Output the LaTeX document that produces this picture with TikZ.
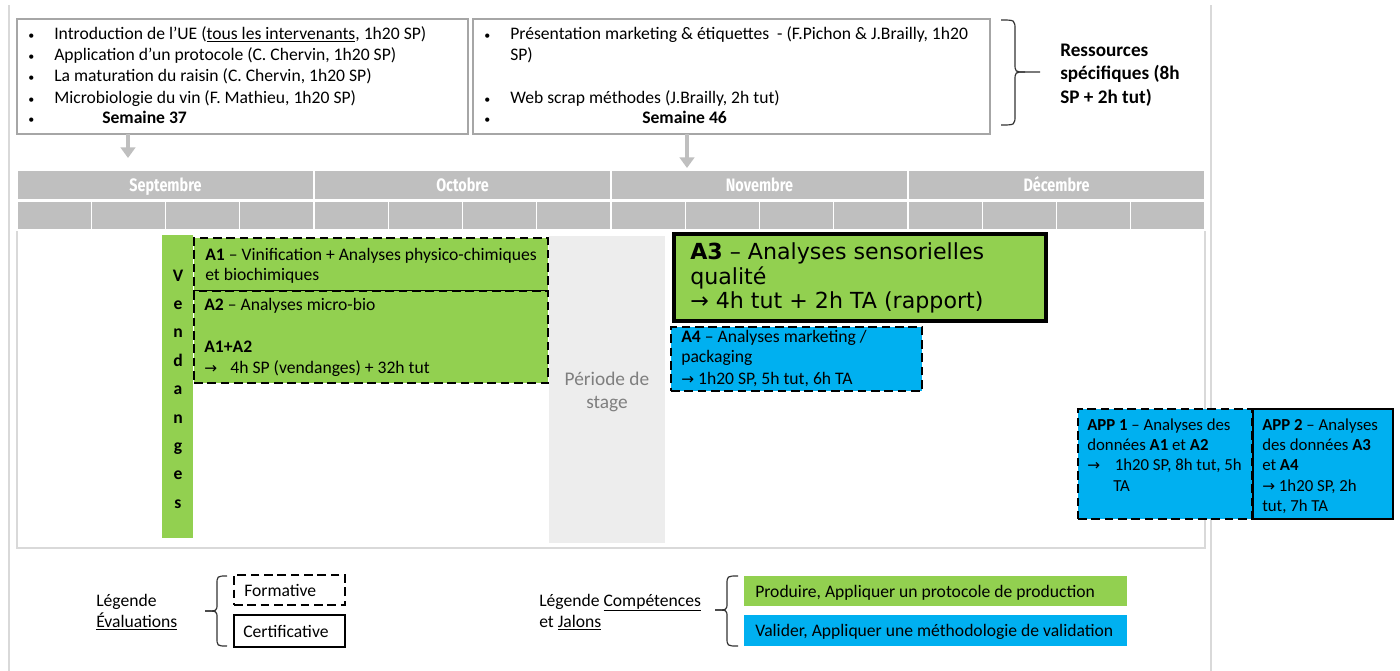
\documentclass[tikz,border=0pt]{standalone}
\usepackage{fontspec}
\setmainfont{Carlito}
\newfontfamily\symbfont{DejaVu Sans}
\newfontfamily\largefont{DejaVu Sans}
\newfontfamily\moisfont{Fira Sans}[FakeStretch=0.8]
\usetikzlibrary{arrows.meta,fit,positioning}

\definecolor{vert}{HTML}{92D050}
\definecolor{bleu}{HTML}{00B0F0}
\definecolor{grisentete}{HTML}{BFBFBF}
\definecolor{griscadre}{HTML}{D9D9D9}
\definecolor{grisstage}{HTML}{EDEDED}
\definecolor{gristexte}{HTML}{7F7F7F}
\definecolor{grisbord}{HTML}{A6A6A6}

\newcommand{\police}{\fontsize{13.2}{16}\selectfont}
\newcommand{\petite}{\fontsize{12.6}{15.4}\selectfont}
\newcommand{\fl}{{\symbfont\fontsize{11.5}{13}\selectfont →}}

\tikzset{
  zone/.style={inner sep=0pt,outer sep=0pt},
  formatif/.style={zone,draw=black,line width=1.8pt,dash pattern=on 6.5pt off 3.5pt},
  certificatif/.style={zone,draw=black,line width=1.6pt},
  ligne/.style={anchor=west,inner sep=0pt,text height=10.5pt,text depth=1.5pt},
  lignep/.style={ligne,font=\petite},
  lettre/.style={inner sep=0pt,text height=10.5pt,text depth=1.5pt,font=\police\bfseries},
  puce/.style={ligne,font=\fontsize{9}{10}\selectfont},
  fleche/.style={draw=grisentete,line width=3.5pt,-{Triangle[width=11pt,length=8pt]}},
  mois/.style={zone,fill=grisentete,draw=white,line width=1pt},
  moislabel/.style={text=white,inner sep=0pt,text height=10.5pt,text depth=1.5pt,
    font=\moisfont\bfseries\fontsize{13.5}{15}\selectfont},
  ressbox/.style={zone,draw=grisbord,line width=0.8pt},
  accolade/.style={draw=black!80,line width=0.9pt},
  trait/.style={draw=griscadre,line width=2.2pt},
}

\begin{document}
\begin{tikzpicture}[x=0.75pt,y=-0.75pt,font=\police]
\useasboundingbox (0,0) rectangle (1400,671);

% bords de page
\draw[trait] (9,5) -- (9,671);
\draw[trait] (1211,5) -- (1211,671);

% ressources specifiques
\node[ressbox,fit={(17,19) (468,134)}] (R1) {};
\node[ressbox,fit={(473,19) (990,134)}] (R2) {};
\foreach \yy [count=\i] in {33,54,75,97,117}
  \node[puce] (P\i) at (28,\yy) {\textbullet};
\node[ligne] (L1) at (54,33) {Introduction de l’UE (\underline{tous les intervenants}, 1h20 SP)};
\node[ligne] (L2) at (54,54) {Application d’un protocole (C. Chervin, 1h20 SP)};
\node[ligne] (L3) at (54,75) {La maturation du raisin (C. Chervin, 1h20 SP)};
\node[ligne] (L4) at (54,97) {Microbiologie du vin (F. Mathieu, 1h20 SP)};
\node[ligne] (L5) at (102,117) {\textbf{Semaine 37}};
\foreach \yy [count=\i] in {33,97,117}
  \node[puce] (Q\i) at (484,\yy) {\textbullet};
\node[ligne] (M1) at (510,33) {Présentation marketing \& étiquettes \ - (F.Pichon \& J.Brailly, 1h20};
\node[ligne] (M2) at (510,54) {SP)};
\node[ligne] (M3) at (510,97) {Web scrap méthodes (J.Brailly, 2h tut)};
\node[ligne] (M4) at (642,117) {\textbf{Semaine 46}};

% accolade ressources
\draw[accolade] (1001,20) .. controls (1015,20) .. (1015,30) -- (1015,63)
  .. controls (1015,72) .. (1025,72) -- (1040,72);
\draw[accolade] (1001,125) .. controls (1015,125) .. (1015,115) -- (1015,81)
  .. controls (1015,72) .. (1025,72);
\node[ligne,font=\fontsize{14.4}{17}\selectfont\bfseries] (Res1) at (1060,50) {Ressources};
\node[ligne,font=\fontsize{14.4}{17}\selectfont\bfseries] (Res2) at (1060,73) {spécifiques (8h};
\node[ligne,font=\fontsize{14.4}{17}\selectfont\bfseries] (Res3) at (1060,97) {SP + 2h tut)};

% calendrier
\node[zone,draw=griscadre,line width=1.5pt,fit={(17,170) (1205,548)}] (Cadre) {};
\foreach \m [count=\i from 0] in {Septembre,Octobre,Novembre,Décembre}{
  \node[mois,fit={({17+297*\i},170) ({314+297*\i},200)}] (Mo\i) {};
  \node[moislabel] (T\i) at (Mo\i.center) {\m};
}
\foreach \i in {0,...,15}
  \node[mois,fit={({17+74.25*\i},201) ({91.25+74.25*\i},230)}] (S\i) {};

\coordinate (F1) at (128,158);
\coordinate (F2) at (687,168);
\draw[fleche] (R1.south -| F1) -- (F1);
\draw[fleche] (R2.south -| F2) -- (F2);

% vendanges
\node[zone,fill=vert,fit={(162,235) (193,538)}] (Vend) {};
\foreach \c [count=\i from 0] in {V,e,n,d,a,n,g,e,s}
  \node[lettre] (V\i) at (178,{275+28.4*\i}) {\c};

% periode de stage
\node[zone,fill=grisstage,fit={(549,236) (665,543)}] (Stage) {};
\node[ligne,anchor=center,text=gristexte,font=\fontsize{14.5}{17.3}\selectfont] (Stage1) at (607,379) {Période de};
\node[ligne,anchor=center,text=gristexte,font=\fontsize{14.5}{17.3}\selectfont] (Stage2) at (607,402) {stage};

% A1 et A2
\node[formatif,fill=vert,fit={(194,238) (548,291)}] (A1) {};
\node[formatif,fill=vert,fit={(194,291) (548,383)}] (A2) {};
\node[ligne] (A1a) at (205,254) {\textbf{A1} – Vinification + Analyses physico-chimiques};
\node[ligne] (A1b) at (205,274) {et biochimiques};
\node[ligne] (A2a) at (204,304) {\textbf{A2} – Analyses micro-bio};
\node[ligne] (A2b) at (204,346) {\textbf{A1+A2}};
\node[ligne] (A2c) at (204,367) {\fl\hspace{10pt}4h SP (vendanges) + 32h tut};

% A3 et A4
\node[zone,fill=vert,draw=black,line width=2.3pt,fit={(674,234) (1046,321)}] (A3) {};
\node[ligne,font=\largefont\fontsize{16.6}{19}\selectfont] (A3a) at (690,253) {\textbf{A3} – Analyses sensorielles};
\node[ligne,font=\largefont\fontsize{16.6}{19}\selectfont] (A3b) at (690,278) {qualité};
\node[ligne,font=\largefont\fontsize{16.6}{19}\selectfont] (A3c) at (690,302) {→ 4h tut + 2h TA (rapport)};
\node[formatif,fill=bleu,fit={(671,327) (922,391)}] (A4) {};
\node[ligne] (A4a) at (681,336) {\textbf{A4} – Analyses marketing /};
\node[ligne] (A4b) at (681,356) {packaging};
\node[ligne] (A4c) at (681,378) {\fl\ 1h20 SP, 5h tut, 6h TA};

% APP
\node[formatif,fill=bleu,fit={(1078,409) (1252,519)}] (APP1) {};
\node[certificatif,fill=bleu,fit={(1253,409) (1393,519)}] (APP2) {};
\node[lignep] (P1a) at (1087,424) {\textbf{APP 1} – Analyses des};
\node[lignep] (P1b) at (1087,444) {données \textbf{A1} et \textbf{A2}};
\node[lignep] (P1c) at (1087,464) {\fl\hspace{11pt}1h20 SP, 8h tut, 5h};
\node[lignep] (P1d) at (1113,485) {TA};
\node[lignep] (P2a) at (1262,424) {\textbf{APP 2} – Analyses};
\node[lignep] (P2b) at (1262,444) {des données \textbf{A3}};
\node[lignep] (P2c) at (1262,464) {et \textbf{A4}};
\node[lignep] (P2d) at (1262,485) {\fl\ 1h20 SP, 2h};
\node[lignep] (P2e) at (1262,505) {tut, 7h TA};

% legende evaluations
\node[ligne] (LegE1) at (96,600) {Légende};
\node[ligne] (LegE2) at (96,621) {\underline{Évaluations}};
\draw[accolade] (227,576) .. controls (217,576) .. (217,585) -- (217,604)
  .. controls (217,611) .. (205,611);
\draw[accolade] (227,646) .. controls (217,646) .. (217,637) -- (217,618)
  .. controls (217,611) .. (205,611);
\node[formatif,fit={(234,575) (345,605)}] (Form) {};
\node[certificatif,fit={(234,615) (345,647)}] (Cert) {};
\node[ligne] (FormTxt) at (244,590) {Formative};
\node[ligne] (CertTxt) at (243,631) {Certificative};

% legende competences
\node[ligne] (LegC1) at (539,600) {Légende \underline{Compétences}};
\node[ligne] (LegC2) at (539,621) {et \underline{Jalons}};
\draw[accolade] (738,576) .. controls (727,576) .. (727,585) -- (727,603)
  .. controls (727,610) .. (715,610);
\draw[accolade] (738,646) .. controls (727,646) .. (727,637) -- (727,617)
  .. controls (727,610) .. (715,610);
\node[zone,fill=vert,fit={(744,576) (1127,606)}] (Prod) {};
\node[zone,fill=bleu,fit={(744,615) (1127,646)}] (Valid) {};
\node[ligne] (ProdTxt) at (755,591) {Produire, Appliquer un protocole de production};
\node[ligne] (ValidTxt) at (755,630) {Valider, Appliquer une méthodologie de validation};
\end{tikzpicture}
\end{document}
